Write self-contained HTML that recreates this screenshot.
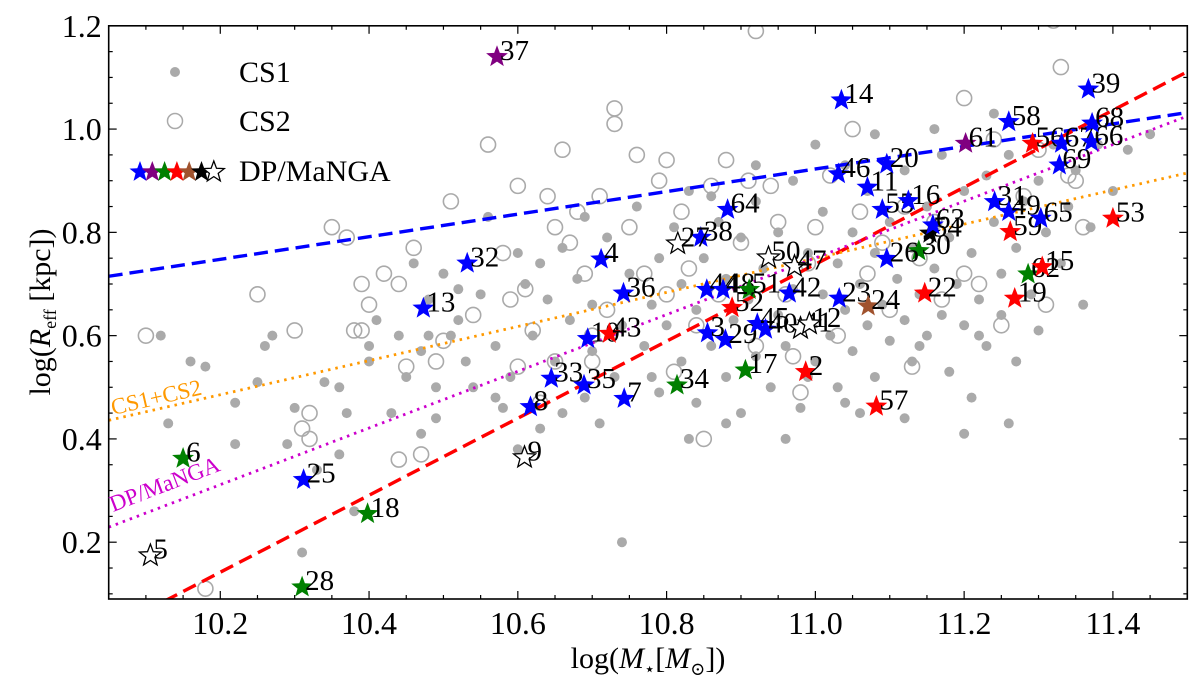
<!DOCTYPE html>
<html><head><meta charset="utf-8"><style>
html,body{margin:0;padding:0;background:#fff;width:1200px;height:697px;overflow:hidden}
svg{display:block}
svg text{font-family:"Liberation Serif","DejaVu Serif",serif}
</style></head><body>
<svg id="chart" width="1200" height="697" viewBox="0 0 1200 697" xmlns="http://www.w3.org/2000/svg" font-family="'Liberation Serif', 'DejaVu Serif', serif">
<defs><clipPath id="clip"><rect x="108.7" y="25.8" width="1078.6" height="573.2"/></clipPath></defs>
<g id="cs1" clip-path="url(#clip)"></g>
<g id="cs2" clip-path="url(#clip)"></g>
<g id="fits" clip-path="url(#clip)"></g>
<g id="stars"></g>
<g id="axes"></g>
<g id="legend">
  <circle cx="175" cy="72" r="5" fill="#aaaaaa"/>
  <text x="239" y="82" font-size="30">CS1</text>
  <circle cx="175" cy="121" r="7.5" fill="none" stroke="#aaaaaa" stroke-width="1.5"/>
  <text x="239" y="131" font-size="30">CS2</text>
  <g id="legstars"></g>
  <text x="239" y="181" font-size="30">DP/MaNGA</text>
</g>
<text x="113" y="415" font-size="23" fill="#ff9900" transform="rotate(-13 113 415)">CS1+CS2</text>
<text x="113" y="512" font-size="23" fill="#cc00cc" transform="rotate(-21 113 512)">DP/MaNGA</text>
<text x="648" y="668" font-size="30" text-anchor="middle">log(<tspan font-style="italic">M</tspan><tspan font-size="18" dy="7">⋆</tspan><tspan dy="-7">[</tspan><tspan font-style="italic">M</tspan><tspan font-size="18" dy="7">⊙</tspan><tspan dy="-7">])</tspan></text>
<text x="0" y="0" font-size="30" text-anchor="middle" transform="translate(50 312) rotate(-90)">log(<tspan font-style="italic">R</tspan><tspan font-size="18" dy="6">eff</tspan><tspan dy="-6"> [kpc])</tspan></text>
</svg>
<script>
const xTicks=[10.2,10.4,10.6,10.8,11.0,11.2,11.4];
const yTicks=[0.2,0.4,0.6,0.8,1.0,1.2];
const xDomain=[10.05,11.5];
const yDomain=[0.09,1.2];
const cs1X=[10.12,10.13,10.16,10.18,10.22,10.22,10.25,10.27,10.29,10.30,10.31,10.33,10.34,10.36,10.36,10.37,10.38,10.40,10.41,10.43,10.45,10.46,10.47,10.47,10.48,10.48,10.49,10.49,10.50,10.51,10.52,10.53,10.54,10.55,10.56,10.57,10.58,10.59,10.60,10.60,10.61,10.62,10.63,10.64,10.65,10.66,10.66,10.67,10.68,10.69,10.70,10.70,10.71,10.72,10.73,10.74,10.74,10.75,10.76,10.77,10.78,10.79,10.79,10.80,10.81,10.82,10.82,10.83,10.84,10.84,10.85,10.86,10.87,10.88,10.88,10.89,10.90,10.90,10.91,10.92,10.92,10.93,10.94,10.95,10.95,10.96,10.97,10.97,10.98,10.99,10.99,11.00,11.01,11.01,11.02,11.03,11.03,11.04,11.04,11.05,11.05,11.06,11.07,11.07,11.08,11.08,11.09,11.10,11.10,11.11,11.12,11.12,11.13,11.13,11.14,11.15,11.15,11.16,11.17,11.17,11.18,11.18,11.19,11.20,11.20,11.21,11.21,11.22,11.23,11.23,11.24,11.25,11.25,11.26,11.27,11.27,11.28,11.29,11.30,11.30,11.31,11.32,11.33,11.34,11.35,11.36,11.37,11.38,11.40,11.42,11.45,11.26,11.20,11.12,11.04,10.96,10.88,10.83,11.08,11.00,10.92,10.86,11.16,11.24,10.99,11.06,11.14,11.22,10.78,10.69,10.63,10.57,10.52,10.44,10.40,10.26];
const cs1Y=[0.60,0.43,0.55,0.54,0.39,0.47,0.51,0.60,0.39,0.46,0.18,0.34,0.51,0.37,0.50,0.45,0.26,0.58,0.63,0.45,0.52,0.74,0.41,0.57,0.60,0.67,0.50,0.44,0.72,0.60,0.63,0.55,0.50,0.68,0.83,0.58,0.46,0.52,0.76,0.38,0.70,0.60,0.74,0.67,0.55,0.45,0.77,0.63,0.71,0.83,0.57,0.66,0.43,0.79,0.52,0.62,0.20,0.72,0.85,0.58,0.66,0.75,0.49,0.62,0.81,0.70,0.55,0.88,0.65,0.47,0.75,0.58,0.82,0.71,0.52,0.63,0.79,0.45,0.67,0.86,0.56,0.73,0.50,0.64,0.80,0.58,0.69,0.90,0.46,0.62,0.76,0.55,0.84,0.68,0.60,0.74,0.50,0.93,0.65,0.80,0.57,0.70,0.62,0.88,0.52,0.76,0.66,0.59,0.82,0.71,0.63,0.92,0.55,0.77,0.68,0.85,0.60,0.73,0.64,0.95,0.79,0.53,0.70,0.88,0.62,0.76,0.48,0.67,0.91,0.58,0.82,0.72,0.64,0.95,0.77,0.55,0.86,0.68,0.90,0.61,0.80,0.97,0.74,0.85,0.92,0.66,0.81,0.97,0.88,0.96,0.99,0.43,0.41,0.44,0.47,0.40,0.43,0.40,0.99,0.97,0.93,0.87,1.00,1.03,0.52,0.45,0.58,0.60,0.52,0.48,0.42,0.48,0.69,0.60,0.55,0.58];
const cs2X=[10.10,10.18,10.25,10.30,10.31,10.32,10.32,10.35,10.37,10.38,10.39,10.39,10.40,10.42,10.44,10.44,10.45,10.46,10.47,10.49,10.50,10.51,10.54,10.56,10.58,10.59,10.60,10.60,10.61,10.62,10.63,10.64,10.65,10.66,10.67,10.68,10.69,10.70,10.71,10.72,10.73,10.73,10.75,10.76,10.77,10.79,10.80,10.81,10.82,10.83,10.84,10.85,10.86,10.87,10.88,10.90,10.91,10.92,10.92,10.94,10.95,10.96,10.97,10.98,10.99,11.00,11.02,11.03,11.05,11.06,11.07,11.09,11.10,11.12,11.13,11.14,11.16,11.17,11.20,11.20,11.22,11.24,11.25,11.28,11.30,11.31,11.33,11.34,11.35,11.36,11.32,10.80,10.70,10.65];
const cs2Y=[0.60,0.11,0.68,0.61,0.42,0.45,0.40,0.81,0.79,0.61,0.70,0.61,0.66,0.72,0.70,0.36,0.54,0.77,0.37,0.55,0.59,0.86,0.64,0.97,0.76,0.67,0.54,0.89,0.69,0.61,0.47,0.87,0.81,0.96,0.78,0.84,0.72,0.55,0.87,0.65,1.04,1.01,0.81,0.95,0.72,0.90,0.94,0.53,0.84,0.73,0.62,0.40,0.89,0.68,0.94,0.78,0.90,1.19,0.58,0.89,0.82,0.68,0.56,0.49,0.74,0.81,0.91,0.60,1.00,0.84,0.72,0.78,0.65,0.85,0.54,0.75,0.82,0.67,0.72,1.06,0.70,0.98,0.62,0.87,0.96,0.66,1.12,0.91,0.90,0.81,1.21,0.68,0.60,0.55];
const starLabels=["4","36","64","38","27","10","43","33","35","8","7","34","44","48","51","52","3","29","45","40","41","12","42","50","47","17","2","23","24","46","11","61","20","55","16","54","63","30","26","22","31","49","59","65","53","62","15","19","57","69","56","67","66","58","39","68","37","14","32","13","6","25","18","5","28","9"];
const starX=[10.712,10.742,10.882,10.846,10.815,10.694,10.723,10.645,10.689,10.617,10.743,10.814,10.854,10.876,10.911,10.888,10.855,10.879,10.922,10.933,10.980,10.992,10.965,10.937,10.972,10.906,10.987,11.032,11.071,11.031,11.070,11.202,11.096,11.090,11.125,11.154,11.158,11.139,11.096,11.147,11.241,11.260,11.262,11.303,11.400,11.286,11.305,11.268,11.082,11.328,11.292,11.331,11.371,11.260,11.367,11.372,10.572,11.035,10.532,10.473,10.150,10.312,10.398,10.106,10.310,10.609];
const starY=[0.748,0.682,0.844,0.790,0.778,0.594,0.604,0.517,0.504,0.462,0.478,0.504,0.689,0.689,0.689,0.654,0.605,0.592,0.623,0.612,0.614,0.623,0.682,0.751,0.734,0.533,0.530,0.672,0.657,0.913,0.887,0.972,0.932,0.844,0.861,0.798,0.814,0.764,0.749,0.682,0.859,0.840,0.801,0.827,0.827,0.719,0.733,0.672,0.463,0.930,0.972,0.972,0.975,1.014,1.077,1.011,1.140,1.056,0.740,0.653,0.362,0.321,0.255,0.174,0.113,0.364];
const starColors=["b","b","b","b","w","b","r","b","b","b","b","g","b","b","g","r","b","b","b","b","w","w","b","w","w","g","r","b","n","b","b","p","b","b","b","k","b","g","b","r","b","b","r","b","r","g","r","r","r","b","r","b","b","b","b","b","p","b","b","b","g","b","g","w","g","w"];
const colorMap={b:"#0000ff",p:"#800080",g:"#008000",r:"#ff0000",n:"#a0522d",k:"#000000",w:"#ffffff"};
const fitNames=["blue-fit","red-fit","cs1-cs2-fit","dp-manga-fit"];
const fitY0=[0.715,0.030,0.436,0.229];
const fitY1=[1.032,1.111,0.915,1.025];

const L=108.7,R=1187.3,T=25.8,B=599;
const sx=v=>L+(v-xDomain[0])/(xDomain[1]-xDomain[0])*(R-L);
const sy=v=>B-(v-yDomain[0])/(yDomain[1]-yDomain[0])*(B-T);
const NS="http://www.w3.org/2000/svg";
function mk(tag,attrs,parent){const e=document.createElementNS(NS,tag);for(const k in attrs)e.setAttribute(k,attrs[k]);parent.appendChild(e);return e;}
function starPts(cx,cy,r){let p=[];for(let i=0;i<10;i++){const a=-Math.PI/2+i*Math.PI/5;const rr=i%2?r*0.42:r;p.push((cx+rr*Math.cos(a)).toFixed(1)+","+(cy+rr*Math.sin(a)).toFixed(1));}return p.join(" ");}

const g1=document.getElementById('cs1');
cs1X.forEach((x,i)=>{const c=mk('circle',{cx:sx(x),cy:sy(cs1Y[i]),r:5,fill:'#aaaaaa'},g1);

});
const g2=document.getElementById('cs2');
cs2X.forEach((x,i)=>{const c=mk('circle',{cx:sx(x),cy:sy(cs2Y[i]),r:7.5,fill:'none',stroke:'#aaaaaa','stroke-width':1.6},g2);

});

const gf=document.getElementById('fits');
const fitStyle=[{stroke:'#0000ff',w:3.4,d:'14,7'},{stroke:'#ff0000',w:3.4,d:'14,7'},{stroke:'#ff9900',w:2.8,d:'2.5,5'},{stroke:'#cc00cc',w:2.8,d:'2.5,5'}];
fitNames.forEach((n,i)=>{const s=fitStyle[i];const l=mk('line',{x1:sx(xDomain[0]),y1:sy(fitY0[i]),x2:sx(xDomain[1]),y2:sy(fitY1[i]),stroke:s.stroke,'stroke-width':s.w,'stroke-dasharray':s.d},gf);

});

const gs=document.getElementById('stars');
starX.forEach((x,i)=>{const cx=sx(x),cy=sy(starY[i]);const c=starColors[i];
const p=mk('polygon',{points:starPts(cx,cy,11.5),fill:colorMap[c],stroke:c==='w'?'#000':'none','stroke-width':1.3},gs);


const t=mk('text',{x:cx+3,y:cy+3,'font-size':29},gs);t.textContent=starLabels[i];

});

const gl=document.getElementById('legstars');
["b","p","g","r","n","k","w"].forEach((c,i)=>{const p=mk('polygon',{points:starPts(140+i*12.3,172,11),fill:colorMap[c],stroke:c==='w'?'#000':'none','stroke-width':1.3},gl);

});

const ga=document.getElementById('axes');
const fr=mk('rect',{x:L,y:T,width:R-L,height:B-T,fill:'none',stroke:'#000','stroke-width':1.6},ga);


for(let v=10.05;v<=11.5001;v+=0.05){const X=sx(v);const major=Math.abs(v*10-Math.round(v*10))<1e-6&&Math.round(v*10)%2===0;const len=major?8:4;
mk('line',{x1:X,y1:B,x2:X,y2:B-len,stroke:'#000','stroke-width':1.2},ga);mk('line',{x1:X,y1:T,x2:X,y2:T+len,stroke:'#000','stroke-width':1.2},ga);}
for(let v=0.1;v<=1.2001;v+=0.05){const Y=sy(v);const major=Math.abs(v*10-Math.round(v*10))<1e-6&&Math.round(v*10)%2===0;const len=major?8:4;
mk('line',{x1:L,y1:Y,x2:L+len,y2:Y,stroke:'#000','stroke-width':1.2},ga);mk('line',{x1:R,y1:Y,x2:R-len,y2:Y,stroke:'#000','stroke-width':1.2},ga);}
xTicks.forEach(v=>{const t=mk('text',{x:sx(v),y:B+35,'font-size':32,'text-anchor':'middle'},ga);t.textContent=v.toFixed(1);

});
yTicks.forEach(v=>{const t=mk('text',{x:L-7,y:sy(v)+11,'font-size':32,'text-anchor':'end'},ga);t.textContent=v.toFixed(1);

});
</script>
</body></html>
